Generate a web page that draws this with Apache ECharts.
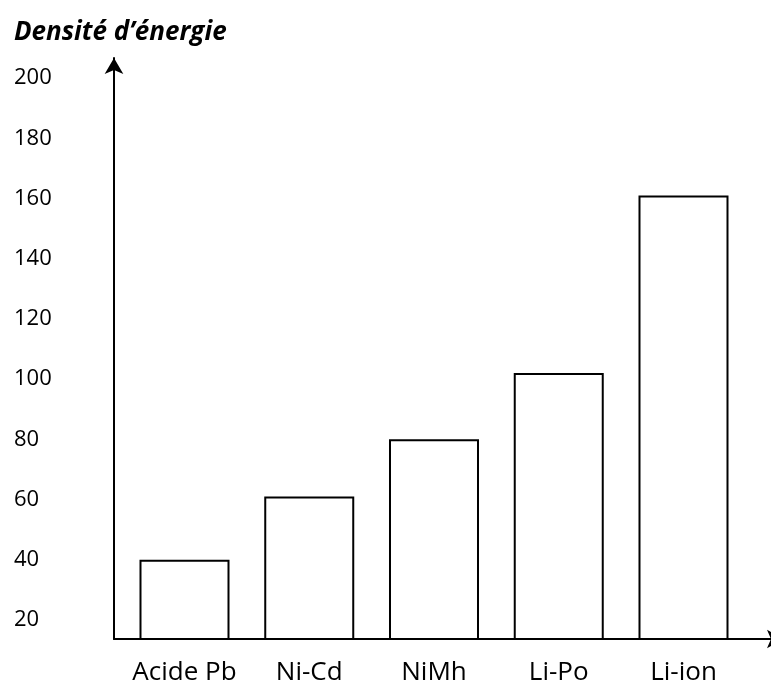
<!DOCTYPE html>
<html>
<head>
<meta charset="utf-8">
<title>Densité d'énergie</title>
<script src="https://cdn.jsdelivr.net/npm/echarts@6/dist/echarts.min.js"></script>
<style>
  html, body { margin: 0; padding: 0; background: #fff; }
  #chart { width: 771px; height: 682px; }
</style>
</head>
<body>
<div id="chart"></div>
<script>
// Battery technologies and their energy density
const categories = ['Acide Pb', 'Ni-Cd', 'NiMh', 'Li-Po', 'Li-ion'];
const densities = [40, 61, 80, 102, 161];
const yTickLabels = [20, 40, 60, 80, 100, 120, 140, 160, 180, 200];
const titleText = 'Densité d\u2019énergie';

const FONT = '"Open Sans", "Liberation Sans", sans-serif';

const chart = echarts.init(document.getElementById('chart'), null, { renderer: 'canvas' });

chart.setOption({
  animation: false,
  backgroundColor: '#ffffff',
  title: {
    text: titleText,
    left: 9,
    top: 15,
    textStyle: {
      fontFamily: FONT,
      fontSize: 26,
      fontWeight: 'bold',
      fontStyle: 'italic',
      color: '#000'
    }
  },
  grid: {
    left: 114,
    right: -12,
    top: 58,
    bottom: 43,
    containLabel: false,
    outerBoundsMode: 'none'
  },
  xAxis: {
    type: 'value',
    min: 0.4349,
    max: 5.7976,
    axisLine: {
      show: true,
      onZero: false,
      symbol: ['none', 'arrow'],
      symbolSize: [14, 16],
      lineStyle: { color: '#000', width: 2 }
    },
    axisTick: { show: false },
    splitLine: { show: false },
    axisLabel: {
      customValues: categories.map((c, i) => i + 1),
      formatter: (v) => categories[Math.round(v) - 1] || '',
      margin: 21,
      fontFamily: FONT,
      fontSize: 26,
      color: '#000'
    }
  },
  yAxis: {
    type: 'value',
    min: 13.69,
    max: 206.65,
    axisLine: {
      show: true,
      symbol: ['none', 'arrow'],
      symbolSize: [14, 16],
      lineStyle: { color: '#000', width: 2 }
    },
    axisTick: { show: false },
    splitLine: { show: false },
    axisLabel: {
      customValues: yTickLabels,
      align: 'left',
      margin: 100,
      fontFamily: FONT,
      fontSize: 22,
      color: '#000'
    }
  },
  series: [{
    type: 'bar',
    data: categories.map((c, i) => [i + 1, densities[i]]),
    barWidth: 90,
    itemStyle: {
      color: '#ffffff',
      borderColor: '#000',
      borderWidth: 2
    }
  }]
});
</script>
</body>
</html>
